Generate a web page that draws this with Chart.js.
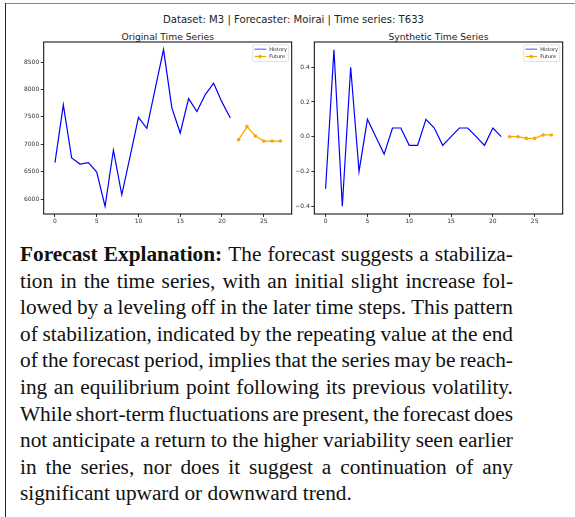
<!DOCTYPE html>
<html>
<head>
<meta charset="utf-8">
<script src="https://cdn.jsdelivr.net/npm/chart.js@4.4.1/dist/chart.umd.min.js"></script>
<style>
  body { margin: 0; width: 575px; height: 517px; position: relative; overflow: hidden; background: #fff; }
  .frame-top { position: absolute; left: 5px; top: 3px; width: 570px; height: 1px; background: #888; }
  .frame-left { position: absolute; left: 5px; top: 3px; width: 1px; height: 514px; background: #222; }
  canvas { position: absolute; }
  .ttl { position: absolute; font-family: "DejaVu Sans"; font-size: 9.2px; color: #222; white-space: nowrap; transform: translate(-50%, -50%); }
  .ttl.main { font-size: 10.1px; }
  #text { position: absolute; left: 20px; top: 241px; width: 493px; font-family: "Liberation Serif"; font-size: 21.3px; color: #111; }
  .ln { height: 26.6px; line-height: 26.6px; white-space: nowrap; display: flex; justify-content: space-between; }
  .ln.last { display: block; word-spacing: 0; }
</style>
</head>
<body>
<div class="frame-top"></div>
<div class="frame-left"></div>
<div class="ttl main" style="left:293.5px; top:19px;">Dataset: M3 | Forecaster: Moirai | Time series: T633</div>
<div class="ttl" style="left:167.7px; top:36px;">Original Time Series</div>
<div class="ttl" style="left:438.5px; top:36px;">Synthetic Time Series</div>
<canvas id="original" width="300" height="225" style="left:0; top:0;"></canvas>
<canvas id="synthetic" width="295" height="225" style="left:280px; top:0;"></canvas>
<div id="text"></div>
<script>
// time steps
const historySteps = [0, 1, 2, 3, 4, 5, 6, 7, 8, 9, 10, 11, 12, 13, 14, 15, 16, 17, 18, 19, 20, 21];
const futureSteps = [22, 23, 24, 25, 26, 27];

// original series (M3 / T633)
const originalHistory = [6665, 7720, 6750, 6640, 6665, 6495, 5866, 6896, 6079, 6780, 7490, 7292,
    8010, 8730, 7664, 7207, 7835, 7597, 7908, 8116, 7770, 7482];
const originalFuture = [7085, 7323, 7152, 7060, 7060, 7060];

// synthetic series
const syntheticHistory = [-0.3, 0.5, -0.4, 0.4, -0.2, 0.1, 0.0, -0.1, 0.05, 0.05, -0.05, -0.05,
    0.1, 0.05, -0.05, 0.0, 0.05, 0.05, 0.0, -0.05, 0.05, 0.0];
const syntheticFuture = [0.0, 0.0, -0.01, -0.01, 0.01, 0.01];

// tick labels
const xTicks = [0, 5, 10, 15, 20, 25];
const originalYTicks = [6000, 6500, 7000, 7500, 8000, 8500];
const syntheticYTicks = [-0.4, -0.2, 0.0, 0.2, 0.4];

const legendLabels = ['History', 'Future'];
const historyColor = '#0000ff';
const futureColor = '#ffa500';

const explanationLines = [
    'Forecast Explanation: The forecast suggests a stabiliza-',
    'tion in the time series, with an initial slight increase fol-',
    'lowed by a leveling off in the later time steps. This pattern',
    'of stabilization, indicated by the repeating value at the end',
    'of the forecast period, implies that the series may be reach-',
    'ing an equilibrium point following its previous volatility.',
    'While short-term fluctuations are present, the forecast does',
    'not anticipate a return to the higher variability seen earlier',
    'in the series, nor does it suggest a continuation of any',
    'significant upward or downward trend.'
];

function toPoints(xs, ys) {
    return xs.map((x, i) => ({x: x, y: ys[i]}));
}

// axes box + inset legend, drawn like matplotlib
const boxAndLegend = {
    id: 'boxAndLegend',
    afterDraw(chart) {
        const ctx = chart.ctx;
        const a = chart.chartArea;
        ctx.save();
        ctx.strokeStyle = '#000';
        ctx.lineWidth = 1;
        ctx.strokeRect(a.left, a.top, a.right - a.left, a.bottom - a.top);

        const w = 36, h = 16.5;
        const bx = a.right - 3 - w, by = a.top + 3;
        ctx.fillStyle = 'rgba(255,255,255,0.8)';
        ctx.strokeStyle = '#ccc';
        ctx.lineWidth = 0.6;
        ctx.beginPath();
        ctx.roundRect(bx, by, w, h, 1.5);
        ctx.fill();
        ctx.stroke();

        ctx.font = '5px "DejaVu Sans"';
        ctx.textBaseline = 'middle';
        chart.data.datasets.forEach((ds, i) => {
            const yy = by + 4.2 + i * 7.3;
            ctx.strokeStyle = ds.borderColor;
            ctx.globalAlpha = i === 0 ? 0.6 : 1;
            ctx.lineWidth = 1.2;
            ctx.beginPath();
            ctx.moveTo(bx + 1.8, yy);
            ctx.lineTo(bx + 13.5, yy);
            ctx.stroke();
            ctx.globalAlpha = 1;
            if (ds.pointRadius > 0) {
                ctx.fillStyle = ds.borderColor;
                ctx.beginPath();
                ctx.arc(bx + 7.6, yy, 1.7, 0, Math.PI * 2);
                ctx.fill();
            }
            ctx.fillStyle = '#222';
            ctx.fillText(ds.label, bx + 16.5, yy + 0.3);
        });
        ctx.restore();
    }
};

function formatTick(v, decimals) {
    const s = Math.abs(v).toFixed(decimals);
    return (v < -1e-9 ? '\u2212' : '') + s;
}

function drawPanel(canvasId, history, future, yTicks, yMin, yMax, yWidth, padRight, decimals) {
    const tickFont = {family: 'DejaVu Sans', size: 6};
    const axisGrid = {drawOnChartArea: false, drawTicks: true, tickLength: 3, color: '#000', lineWidth: 0.8};
    return new Chart(document.getElementById(canvasId), {
        type: 'line',
        data: {
            datasets: [
                {
                    label: legendLabels[0],
                    data: toPoints(historySteps, history),
                    borderColor: historyColor,
                    borderWidth: 1.2,
                    pointRadius: 0,
                    tension: 0
                },
                {
                    label: legendLabels[1],
                    data: toPoints(futureSteps, future),
                    borderColor: futureColor,
                    backgroundColor: futureColor,
                    borderWidth: 1.2,
                    pointRadius: 1.8,
                    pointBorderWidth: 0,
                    tension: 0
                }
            ]
        },
        options: {
            responsive: false,
            animation: false,
            layout: {padding: {top: 42, right: padRight, left: 0, bottom: 0}},
            plugins: {legend: {display: false}, tooltip: {enabled: false}},
            scales: {
                x: {
                    type: 'linear',
                    min: -1.35,
                    max: 28.35,
                    afterBuildTicks: s => { s.ticks = xTicks.map(v => ({value: v})); },
                    afterFit: s => { s.height = 11; },
                    grid: axisGrid,
                    border: {display: false},
                    ticks: {font: tickFont, color: '#333', padding: 1, maxRotation: 0, autoSkip: false,
                        callback: v => String(v)}
                },
                y: {
                    type: 'linear',
                    min: yMin,
                    max: yMax,
                    afterBuildTicks: s => { s.ticks = yTicks.map(v => ({value: v})); },
                    afterFit: s => { s.width = yWidth; },
                    grid: axisGrid,
                    border: {display: false},
                    ticks: {font: tickFont, color: '#333', padding: 1.5, autoSkip: false,
                        callback: v => formatTick(v, decimals)}
                }
            }
        },
        plugins: [boxAndLegend]
    });
}

drawPanel('original', originalHistory, originalFuture, originalYTicks, 5728, 8868, 43.7, 8.3, 0);
drawPanel('synthetic', syntheticHistory, syntheticFuture, syntheticYTicks, -0.445, 0.545, 34.3, 12.3, 1);

// explanation paragraph, one justified line per div
const textBox = document.getElementById('text');
explanationLines.forEach((line, i) => {
    const div = document.createElement('div');
    div.className = 'ln' + (i === explanationLines.length - 1 ? ' last' : '');
    const words = line.split(' ');
    words.forEach((w, j) => {
        const span = document.createElement('span');
        span.textContent = w;
        if (i === 0 && j < 2) span.style.fontWeight = 'bold';
        div.appendChild(span);
        if (i === explanationLines.length - 1 && j < words.length - 1) div.appendChild(document.createTextNode(' '));
    });
    textBox.appendChild(div);
});
</script>
</body>
</html>
